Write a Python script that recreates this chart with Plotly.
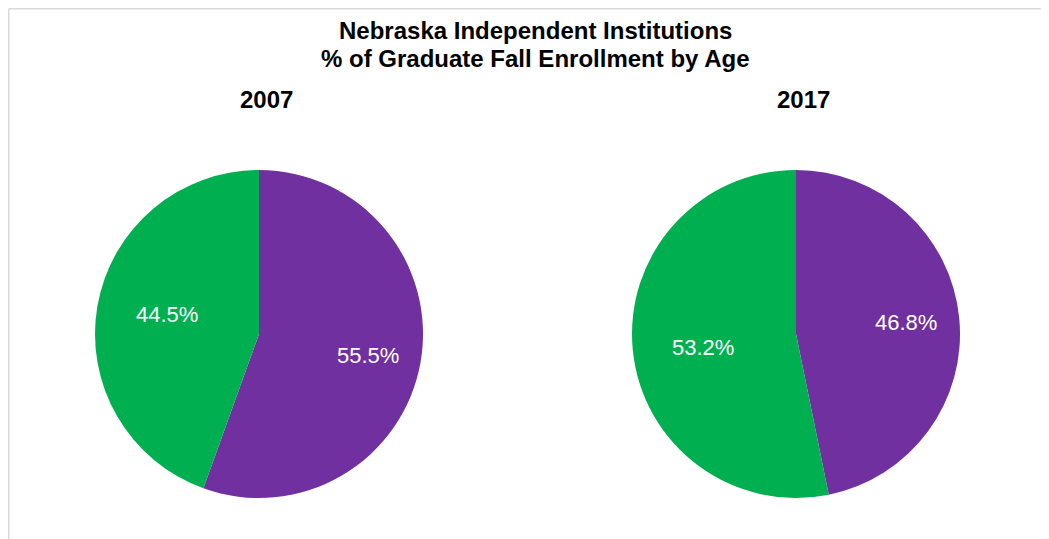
import math
import plotly.graph_objects as go

labels = ["Age 25 and Over", "Age 24 and Under"]
values_2007 = [55.5, 44.5]
values_2017 = [46.8, 53.2]
colors = ["#7030A0", "#00B050"]
years = ["2007", "2017"]

W, H = 1049, 539
OFF = 8  # page body margin offset
def px(x): return (x - OFF) / W
def py(y): return 1 - (y - OFF) / H

FONT = "Liberation Sans, Arial, sans-serif"
R = 164
centers = [(259, 334), (796, 334)]

fig = go.Figure()
annotations = []
for vals, (cx, cy), yr in zip([values_2007, values_2017], centers, years):
    dom = dict(x=[px(cx - R), px(cx + R)], y=[py(cy + R), py(cy - R)])
    fig.add_trace(go.Pie(
        labels=labels, values=vals, name=yr, domain=dom,
        marker=dict(colors=colors, line=dict(width=0)),
        sort=False, direction="clockwise", rotation=0,
        textinfo="none",
        hoverinfo="label+value", showlegend=False,
    ))
    total = sum(vals)
    cum = 0
    for v in vals:
        mid = (cum + v / 2) / total * 2 * math.pi
        cum += v
        r = 0.62 * R
        tx = cx + 8.5 + r * math.sin(mid)
        ty = cy + 1 - r * 1.2 * math.cos(mid)
        annotations.append(dict(
            text=f"{v:.1f}%", x=px(tx), y=py(ty), xref="paper", yref="paper",
            showarrow=False, xanchor="center", yanchor="middle",
            font=dict(family=FONT, size=22, color="white")))

annotations += [
    dict(text="<b>Nebraska Independent Institutions</b>",
         x=px(535), y=py(31), xref="paper", yref="paper", showarrow=False,
         font=dict(family=FONT, size=24, color="black"),
         xanchor="center", yanchor="middle"),
    dict(text="<b>% of Graduate Fall Enrollment by Age</b>",
         x=px(535), y=py(59), xref="paper", yref="paper", showarrow=False,
         font=dict(family=FONT, size=24, color="black"),
         xanchor="center", yanchor="middle"),
    dict(text="<b>2007</b>", x=px(266), y=py(100), xref="paper", yref="paper", showarrow=False,
         font=dict(family=FONT, size=24, color="black"),
         xanchor="center", yanchor="middle"),
    dict(text="<b>2017</b>", x=px(803), y=py(100), xref="paper", yref="paper", showarrow=False,
         font=dict(family=FONT, size=24, color="black"),
         xanchor="center", yanchor="middle"),
]

shapes = [
    dict(type="line", xref="paper", yref="paper", x0=0.75 / W, x1=1, y0=1 - 0.75 / H, y1=1 - 0.75 / H,
         line=dict(color="#D9D9D9", width=1.5)),
    dict(type="line", xref="paper", yref="paper", x0=0.75 / W, x1=0.75 / W, y0=0, y1=1 - 0.75 / H,
         line=dict(color="#D9D9D9", width=1.5)),
]

fig.update_layout(
    width=W, height=H, margin=dict(l=0, r=0, t=0, b=0),
    paper_bgcolor="white", plot_bgcolor="white",
    annotations=annotations, shapes=shapes,
)
fig.write_html("out.html")
